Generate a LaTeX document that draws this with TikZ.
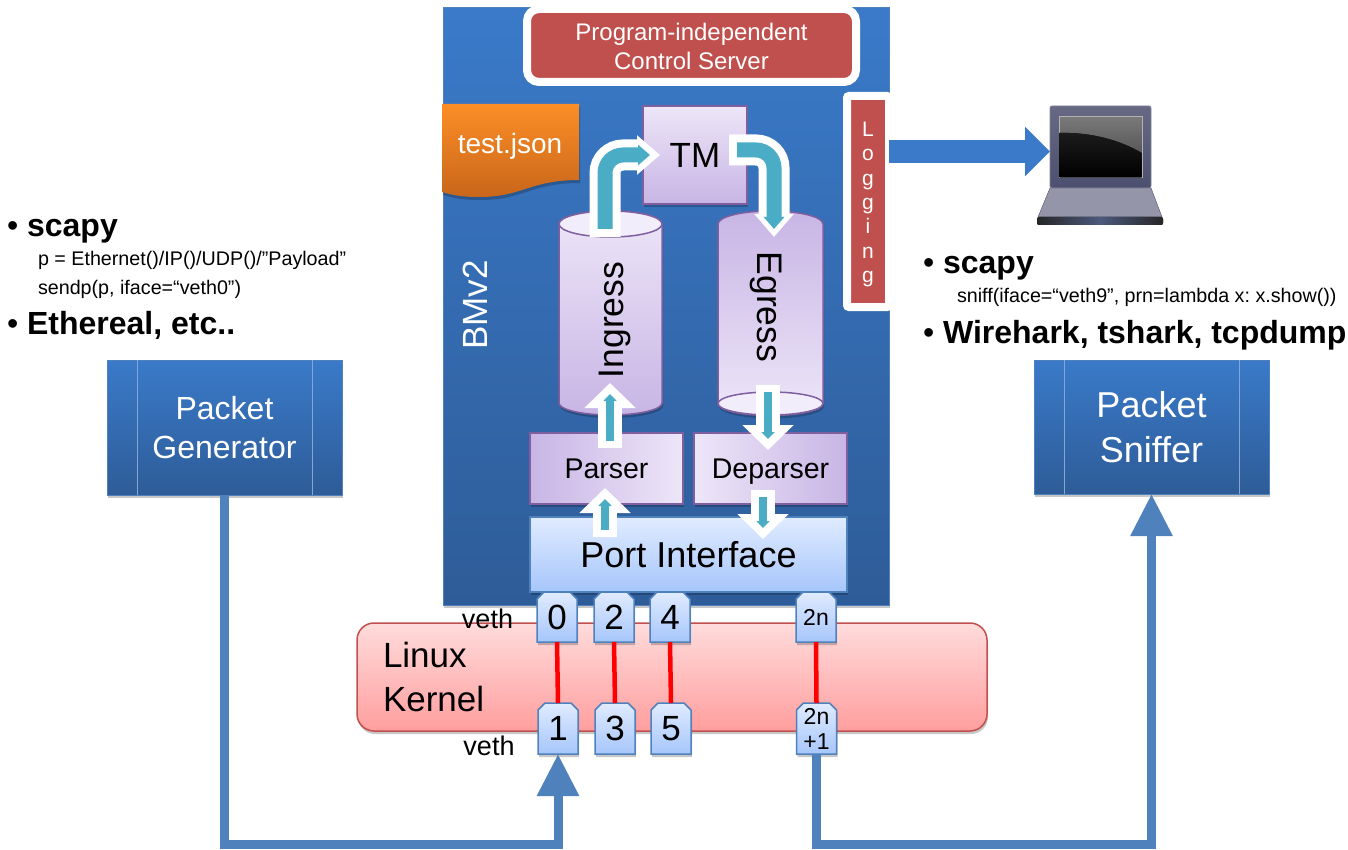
\documentclass[tikz,border=0pt]{standalone}
\usepackage{fontspec}
\usepackage{xcolor}
\setmainfont{Liberation Sans}
\usetikzlibrary{arrows.meta,calc,shadows,shapes.misc}

\definecolor{bluetop}{HTML}{3A7AC9}
\definecolor{bluebot}{HTML}{2E5C98}
\definecolor{ctlred}{HTML}{C0504D}
\definecolor{lineblue}{HTML}{4F81BD}
\definecolor{teal}{HTML}{4BACC6}
\definecolor{lilac}{HTML}{EDE6F8}
\definecolor{lilacd}{HTML}{C8B5E5}
\definecolor{lilacb}{HTML}{7F5F9F}
\definecolor{ifacetop}{HTML}{E0EBFF}
\definecolor{ifacebot}{HTML}{A6C6FB}
\definecolor{lapframe}{HTML}{4C4F6E}
\definecolor{jsontop}{HTML}{FC8E26}
\definecolor{jsonbot}{HTML}{C8661A}

\newcommand{\fsz}[2]{\fontsize{#1}{#2}\selectfont}
\newcommand{\blt}{{\mdseries •}}
\frenchspacing

\begin{document}
\begin{tikzpicture}[
    x=1pt, y=-1pt, >=Latex,
    softshadow/.style={drop shadow={shadow xshift=1pt, shadow yshift=-3pt, opacity=.22, fill=black}},
    procbox/.style={rectangle, draw=lineblue, line width=1pt, top color=bluetop, bottom color=bluebot,
        text=white, align=center, inner sep=0pt, outer sep=0pt, softshadow},
    seam/.style={lineblue!70!white, line width=.8pt},
    redbox/.style={rectangle, draw=white, line width=8pt, fill=ctlred, text=white, align=center,
        inner sep=0pt, outer sep=0pt, rounded corners=6pt},
    purple/.style={rectangle, draw=lilacb, line width=1.5pt, inner sep=0pt, outer sep=0pt, softshadow},
    iface/.style={draw=lineblue, line width=1.5pt, top color=ifacetop, bottom color=ifacebot,
        inner sep=0pt, outer sep=0pt},
    portbox/.style={iface, chamfered rectangle, chamfered rectangle xsep=3.5pt, chamfered rectangle ysep=3.5pt,
        chamfered rectangle corners={north west, north east}, minimum width=40pt, align=center, softshadow},
    plain/.style={inner sep=0pt, outer sep=0pt, anchor=west},
    flowhalo/.style={white, line width=24pt, -{Triangle[length=25pt,width=50pt]}},
    flowcore/.style={teal, line width=8pt, shorten >=11pt, shorten <=7pt, -{Triangle[length=7pt,width=13pt]}},
    benthalo/.style={white, line width=31pt, rounded corners=18pt, -{Triangle[length=23pt,width=38pt]}},
    bentcore/.style={teal, line width=15pt, rounded corners=18pt, -{Triangle[length=12pt,width=20pt]}},
    wire/.style={lineblue, line width=9pt, -{Triangle[length=42pt,width=40pt]}},
    veth/.style={red, line width=4.5pt}
]

\path[use as bounding box] (0,0) rectangle (1348,850);

% kernel band
\draw[draw=ctlred, line width=1.5pt, top color=red!14, bottom color=red!38, rounded corners=17pt, softshadow]
      (357,623) rectangle (987,731);
\node[plain, align=left, font=\fsz{35}{44}] (kernel) at (383,677) {Linux\\Kernel};

% switch body
\node[procbox, minimum width=446pt, minimum height=597pt] (bmv) at (666,306.5) {};
\node[text=white, rotate=90, inner sep=0pt, font=\fsz{35}{40}] (bmvlabel) at (475,305) {BMv2};
\node[redbox, minimum width=329pt, minimum height=73pt, rounded corners=12pt, font=\fsz{24}{29}] (ctl) at (691.5,45.5)
      {\rule{0pt}{19.5pt}Program-independent\\Control Server};

% json sheet
\draw[draw=none, top color=jsontop, bottom color=jsonbot, softshadow]
      (442,104) -- (579,104) -- (579,180)
      .. controls (530,180) and (522,197) .. (480,197)
      .. controls (465,197) and (455,196) .. (442,192) -- cycle;
\node[text=white, inner sep=0pt, font=\fsz{28}{32}] (json) at (510,146) {test.json};

\node[purple, minimum width=104pt, minimum height=98pt, top color=lilac, bottom color=lilacd, font=\fsz{35}{40}]
      (tm) at (695,155) {TM};

% pipelines
\draw[draw=lilacb, line width=1.5pt, top color=lilac, bottom color=lilacd, softshadow]
      (559,224) -- (559,403) arc[start angle=180, end angle=0, x radius=51.5, y radius=12]
      -- (662,224) arc[start angle=360, end angle=180, x radius=51.5, y radius=13] -- cycle;
\draw[draw=lilacb, line width=1.5pt, fill=lilac!70!white] (610.5,224) ellipse[x radius=51.5, y radius=13];
\node[rotate=90, inner sep=0pt, font=\fsz{35.5}{40}] (ingress) at (615,320) {Ingress};

\draw[draw=lilacb, line width=1.5pt, top color=lilacd, bottom color=lilac, softshadow]
      (718,224) -- (718,403.5) arc[start angle=180, end angle=0, x radius=52.5, y radius=12]
      -- (823,224) arc[start angle=360, end angle=180, x radius=52.5, y radius=13] -- cycle;
\draw[draw=lilacb, line width=1.5pt, fill=lilac!70!white] (770.5,403.5) ellipse[x radius=52.5, y radius=11.5];
\node[rotate=-90, inner sep=0pt, font=\fsz{35.5}{40}] (egress) at (766,307) {Egress};

\node[purple, minimum width=153pt, minimum height=71pt, left color=lilacd, right color=lilac, font=\fsz{28.5}{32},
      text height=20.4pt, text depth=0pt] (parser) at (606.5,468.5) {Parser};
\node[purple, minimum width=153pt, minimum height=71pt, left color=lilac, right color=lilacd, font=\fsz{28.5}{32},
      text height=20.4pt, text depth=0pt] (deparser) at (770.5,468.5) {Deparser};
\node[iface, rectangle, minimum width=317pt, minimum height=75pt, font=\fsz{36}{40}, softshadow]
      (port) at (688.5,554.5) {Port Interface};

% flow arrows
\coordinate (ingtop) at (605,237);
\coordinate (tmin) at (660,155);
\coordinate (tmout) at (729,150);
\coordinate (egtop) at (774,237);
\draw[benthalo] (ingtop) |- (tmin);
\draw[bentcore, shorten <=8pt, shorten >=10pt] (ingtop) |- (tmin);
\draw[benthalo] (tmout) -| (egtop);
\draw[bentcore, shorten <=8pt, shorten >=8pt] (tmout) -| (egtop);

\coordinate (parsetop) at (610,448);
\coordinate (ingbot) at (610,383);
\coordinate (egbot) at (768,385);
\coordinate (departop) at (768,450);
\coordinate (portleft) at (605,537);
\coordinate (parsebot) at (605,488);
\coordinate (depbot) at (763,490);
\coordinate (portright) at (763,539);
\foreach \a/\b in {parsetop/ingbot, egbot/departop, portleft/parsebot, depbot/portright} {
    \draw[flowhalo] (\a) -- (\b);
    \draw[flowcore] (\a) -- (\b);
}

% logging column
\node[redbox, minimum width=42pt, minimum height=211pt, rounded corners=2pt] (logbox) at (868,201.5) {};
\node[text=white, align=center, inner sep=0pt, font=\fsz{21}{24.3}] (loglabel) at (868,204.5) {L\\o\\g\\g\\i\\n\\g};

% laptop
\coordinate (laptop) at (1050,151.5);
\draw[lapframe!70!white, line width=.8pt, top color=lapframe!85!white, bottom color=lapframe, rounded corners=2pt]
      (1050,106) rectangle (1151,188);
\draw[draw=lapframe, fill=lapframe!60!white] (1050,188) -- (1151,188) -- (1162,217) -- (1038,217) -- cycle;
\fill[left color=black!85, right color=black!85, middle color=lapframe!80!lineblue, rounded corners=2pt]
      (1037,217) rectangle (1163,225);
\draw[gray!60!white, line width=1pt, top color=gray!95!black, bottom color=gray!50!black] (1059,117) rectangle (1142,178);
\fill[top color=black!78!gray, bottom color=black] (1059.5,133) .. controls (1090,132) and (1120,140) .. (1141.5,153)
      -- (1141.5,177.5) -- (1059.5,177.5) -- cycle;
\draw[bluetop, line width=23pt, -{Triangle[length=25pt,width=48pt]}] (logbox.east |- laptop) -- (laptop);

% ports
\foreach \n/\x in {0/557,2/614,4/670} {
    \node[portbox, minimum height=50pt, font=\fsz{35}{40}] (p\n) at (\x,617) {\n};
}
\foreach \n/\x in {1/558,3/615,5/671} {
    \node[portbox, minimum height=51pt, font=\fsz{35}{40}] (p\n) at (\x,728.5) {\n};
}
\node[portbox, minimum height=50pt, font=\fsz{23}{26}] (ptop) at (816,617) {2n};
\node[portbox, minimum height=51pt, font=\fsz{23}{25}] (pbot) at (816.5,728.5) {2n\\+1};
\foreach \a/\b in {p0/p1, p2/p3, p4/p5, ptop/pbot} {
    \draw[veth] (\a.south) -- (\b.north);
}
\node[inner sep=0pt, font=\fsz{27}{30}] (vethtop) at (487.5,619) {veth};
\node[inner sep=0pt, font=\fsz{27}{30}] (vethbot) at (489,746) {veth};

% generator and sniffer
\node[procbox, minimum width=235pt, minimum height=135pt, font=\fsz{32}{39}] (gen) at (224.5,427.5) {Packet\\Generator};
\node[procbox, minimum width=235pt, minimum height=134pt, font=\fsz{36}{45}] (sniff) at (1151.5,427) {Packet\\Sniffer};
\foreach \b in {gen,sniff} {
    \draw[seam] ($(\b.north west)+(30,0)$) -- ($(\b.south west)+(30,0)$);
    \draw[seam] ($(\b.north east)+(-30,0)$) -- ($(\b.south east)+(-30,0)$);
}
\coordinate (lowgen) at (558,844.5);
\coordinate (lowsniff) at (816.5,844.5);
\draw[wire] (gen.south) |- (lowgen) -- (p1.south);
\draw[wire] (pbot.south) -- (lowsniff) -| (sniff.south);

% notes on the left
\node[plain, font=\bfseries\fsz{32}{36}] (lscapy) at (7,231) {\blt{} scapy};
\node[plain, font=\fsz{19.7}{24}] (lsend) at (38,260) {p = Ethernet()/IP()/UDP()/”Payload”};
\node[plain, font=\fsz{19.7}{24}] (lsendp) at (38,289) {sendp(p, iface=“veth0”)};
\node[plain, font=\bfseries\fsz{32}{36}] (lether) at (7,325) {\blt{} Ethereal, etc..};

% notes on the right
\node[plain, font=\bfseries\fsz{32}{36}] (rscapy) at (923,268) {\blt{} scapy};
\node[plain, font=\fsz{19.7}{24}] (rsniff) at (957,297) {sniff(iface=“veth9”, prn=lambda x: x.show())};
\node[plain, font=\bfseries\fsz{32}{36}] (rwire) at (923,335) {\blt{} Wirehark, tshark, tcpdump};

\end{tikzpicture}
\end{document}
